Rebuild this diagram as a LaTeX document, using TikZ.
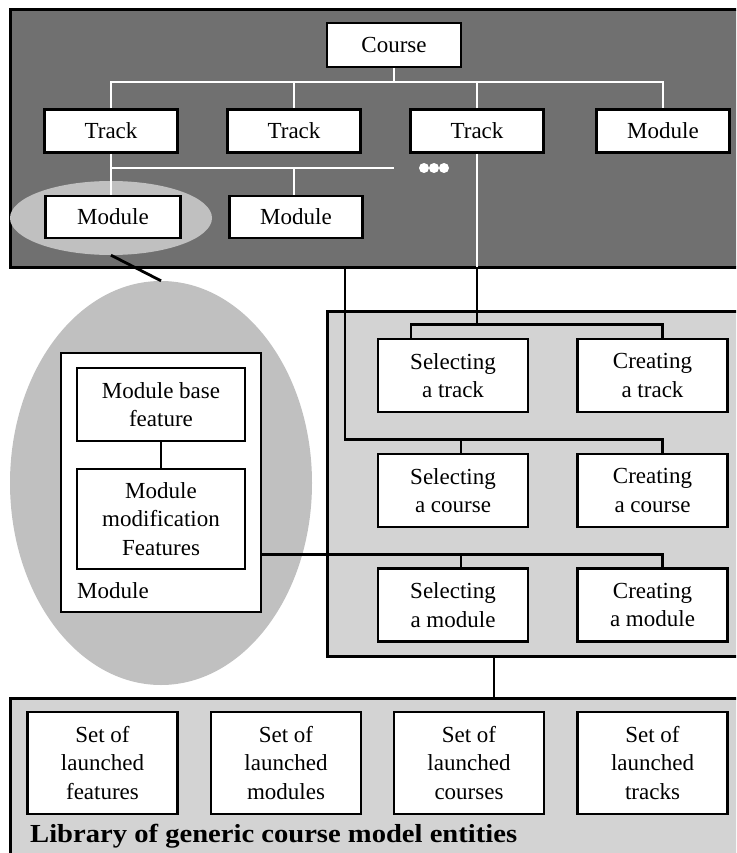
\documentclass[tikz,border=0pt]{standalone}
\usepackage{fontspec}
\setmainfont{Liberation Serif}
\usetikzlibrary{positioning,calc,shapes.geometric}

\definecolor{darkpanel}{RGB}{112,112,112}
\definecolor{lightpanel}{RGB}{211,211,211}
\definecolor{oval}{RGB}{192,192,192}

\tikzset{
  entity/.style={draw, line width=2.8pt, fill=white, inner sep=0pt, align=center,
    font=\fontsize{23}{28.5}\selectfont},
  topbox/.style={entity, minimum width=133pt, minimum height=43pt},
  actbox/.style={entity, minimum width=150pt, minimum height=73pt},
  setbox/.style={entity, minimum width=150pt, minimum height=102pt},
  featbox/.style={entity, minimum width=168pt},
  panel/.style={draw, line width=3pt},
  wline/.style={white, line width=2.5pt},
  bline/.style={black, line width=2.8pt},
  blob/.style={ellipse, fill=oval, inner sep=0pt}
}

\begin{document}
\begin{tikzpicture}[x=1pt,y=-1pt]
        \useasboundingbox (0,0) rectangle (736,853);
        \clip (0,0) rectangle (736,853);

        % Panels
        \draw[panel, fill=darkpanel] (10,10) rectangle (760,267);
        \draw[panel, fill=lightpanel] (327,311) rectangle (760,656);
        \draw[panel, fill=lightpanel] (10,698) rectangle (760,880);

        % Ovals
        \node[blob, minimum width=202pt, minimum height=74pt] (zoomSmall) at (111,218) {};
        \node[blob, minimum width=302pt, minimum height=404pt] (zoomBig) at (161,483) {};
        \draw[bline] (zoomSmall.south) -- (zoomBig.north);

        % Course structure
        \node[topbox, minimum width=134pt, minimum height=44pt] (course) at (394,45) {Course};
        \node[topbox] (trackA) at (111,131) {Track};
        \node[topbox] (trackB) at (294,131) {Track};
        \node[topbox] (trackC) at (477,131) {Track};
        \node[topbox] (moduleD) at (663,131) {Module};
        \node[topbox, minimum width=135pt, minimum height=42pt] (moduleA) at (113,217) {Module};
        \node[topbox, minimum height=42pt] (moduleB) at (296,217) {Module};

        \coordinate (topbus) at (394,82);
        \coordinate (subbus) at (394,168);
        \coordinate (dots) at (434,168);
        \draw[wline] (course.south) -- (topbus);
        \draw[wline] (trackA.north) |- (moduleD.north |- topbus) -- (moduleD.north);
        \draw[wline] (trackB.north) -- (trackB.north |- topbus);
        \draw[wline] (trackC.north) -- (trackC.north |- topbus);
        \draw[wline] (trackA.south) -- (trackA.south |- moduleA.north);
        \draw[wline] (trackA.south |- subbus) -- (subbus);
        \draw[wline] ([xshift=-2pt]moduleB.north) -- ([xshift=-2pt]moduleB.north |- subbus);
        \foreach \dx in {-10,0,10}
          \fill[white] ($(dots)+(\dx,0)$) circle (5);

        % Module detail
        \node[entity, minimum width=200pt, minimum height=259pt] (modOuter) at (161,482.5) {};
        \node[featbox, minimum height=73pt] (modBase) at (161,404.5) {Module base\\feature};
        \node[featbox, minimum height=100pt] (modChange) at (161,519) {Module\\modification\\Features};
        \node[anchor=base west, inner sep=0pt, font=\fontsize{23}{28.5}\selectfont] (modLabel) at (77,598) {Module};
        \draw[bline] (modBase) -- (modChange);

        % Operations
        \node[actbox] (selTrack) at (453,375.5) {Selecting\\a track};
        \node[actbox] (creTrack) at (652.5,375.5) {Creating\\a track};
        \node[actbox] (selCourse) at (453,490.5) {Selecting\\a course};
        \node[actbox] (creCourse) at (652.5,490.5) {Creating\\a course};
        \node[actbox] (selModule) at (453,605) {Selecting\\a module};
        \node[actbox] (creModule) at (652.5,605) {Creating\\a module};

        \coordinate (trackExit) at (477,267);
        \coordinate (courseExit) at (345,267);
        \coordinate (busT) at ($(selTrack.north)+(24,-13)$);
        \coordinate (busC) at ($(selCourse.north)+(8,-13)$);
        \coordinate (busM) at ($(selModule.north)+(8,-13)$);
        \draw[wline] (trackC.south) -- (trackExit);
        \draw[bline] (trackExit) -- (busT);
        \draw[bline] ([xshift=-42pt]selTrack.north) |- ([xshift=10pt]creTrack.north |- busT) -- ([xshift=10pt]creTrack.north);
        \draw[bline] (courseExit) |- ([xshift=10pt]creCourse.north |- busC) -- ([xshift=10pt]creCourse.north);
        \draw[bline] (busC) -- ([xshift=8pt]selCourse.north);
        \draw[bline] (modOuter.east |- busM) -- ([xshift=10pt]creModule.north |- busM) -- ([xshift=10pt]creModule.north);
        \draw[bline] (busM) -- ([xshift=8pt]selModule.north);

        % Library
        \coordinate (opsExit) at (494,656);
        \coordinate (libEntry) at (494,698);
        \draw[bline] (opsExit) -- (libEntry);
        \node[setbox] (setFeat) at (102.5,763) {Set of\\launched\\features};
        \node[setbox] (setMod) at (286,763) {Set of\\launched\\modules};
        \node[setbox] (setCrs) at (469,763) {Set of\\launched\\courses};
        \node[setbox] (setTrk) at (652.5,763) {Set of\\launched\\tracks};
        \node[anchor=base west, inner sep=0pt, xscale=1.1, transform shape,
          font=\bfseries\fontsize{26}{30}\selectfont] (libLabel) at (30,842) {Library of generic course model entities};

\end{tikzpicture}
\end{document}
